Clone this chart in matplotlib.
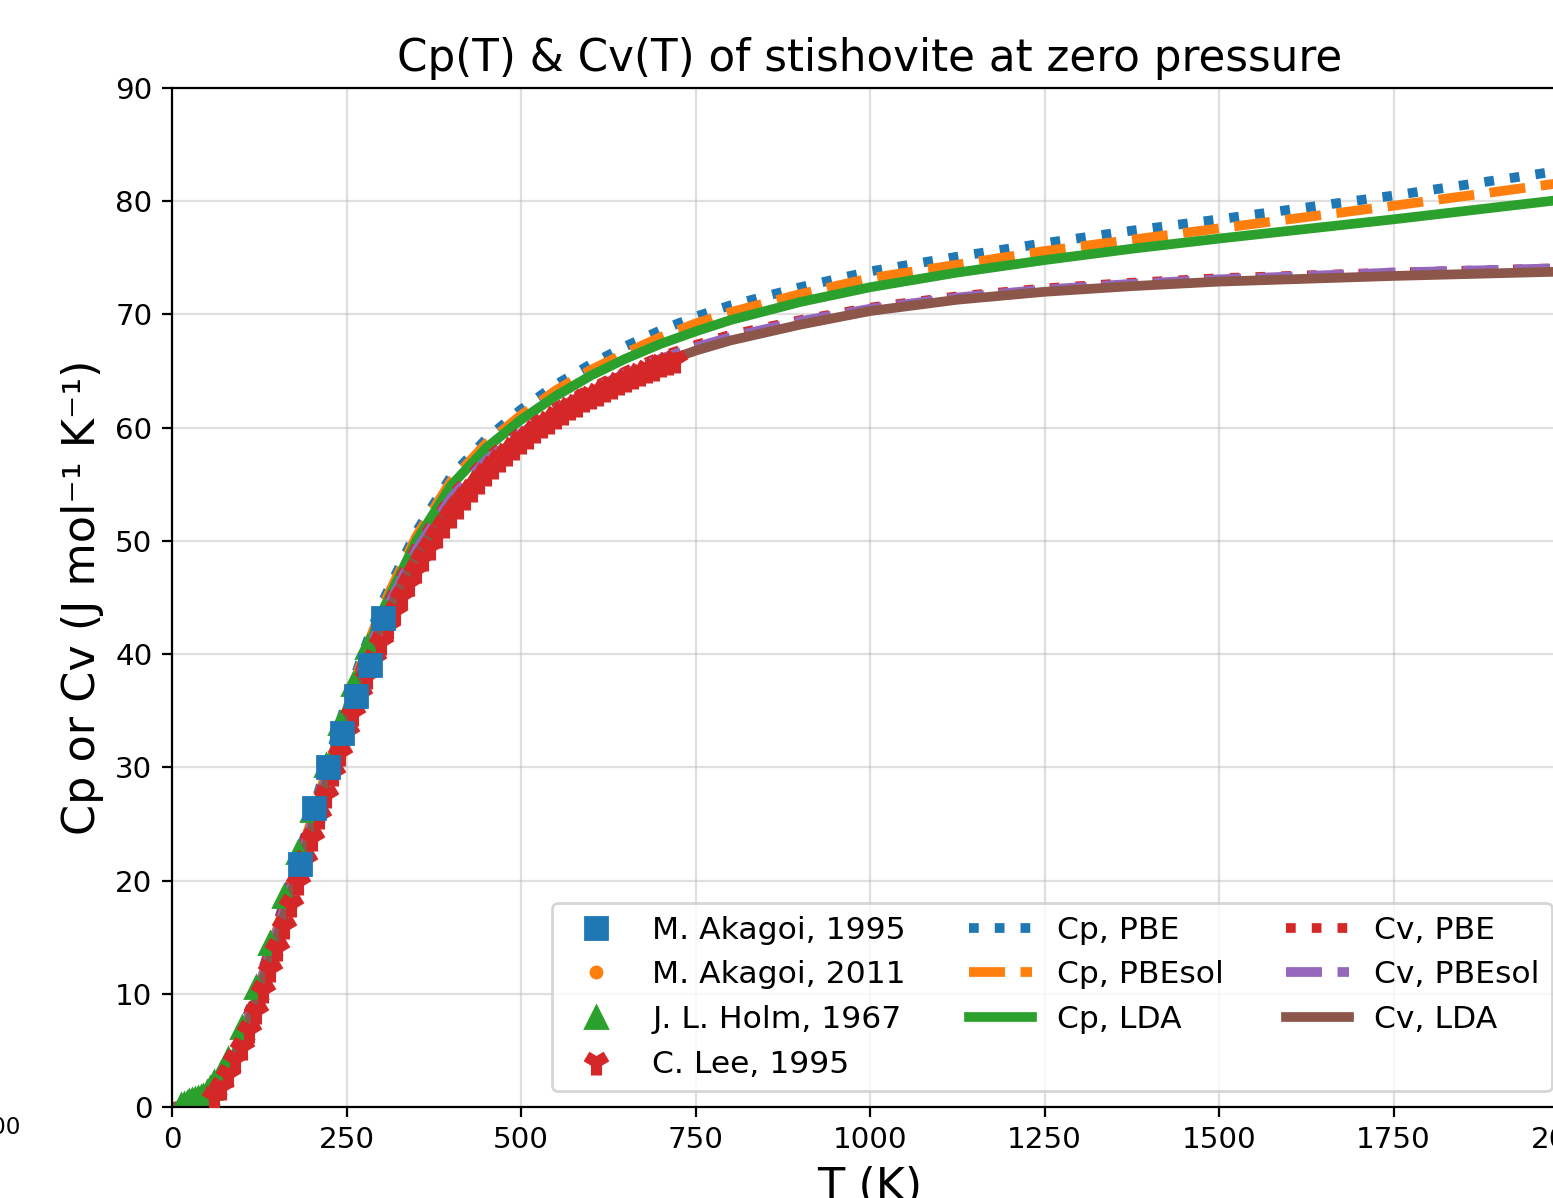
import matplotlib.pyplot as plt

# temperature grid for the calculated curves (K)
T_grid = [0, 25, 50, 75, 100, 125, 150, 175, 200, 225, 250, 275, 300, 350, 400,
          450, 500, 550, 600, 650, 700, 750, 800, 900, 1000, 1125, 1250, 1375,
          1500, 1750, 2000]

cp_pbe = [0, 0.15, 0.9, 3.0, 6.6, 11.1, 16.0, 20.9, 25.8, 30.8, 35.8, 40.3, 44.4, 50.8,
          55.7, 59.0, 61.6, 63.8, 65.6, 67.2, 68.6, 69.8, 70.8, 72.4, 73.8, 75.1, 76.3,
          77.4, 78.4, 80.5, 82.8]
cp_pbesol = [0, 0.12, 0.8, 2.8, 6.3, 10.7, 15.6, 20.5, 25.4, 30.4, 35.4, 39.9, 44.0, 50.4,
             55.3, 58.6, 61.1, 63.3, 65.1, 66.6, 68.0, 69.2, 70.2, 71.8, 73.2, 74.4, 75.6,
             76.6, 77.6, 79.6, 81.7]
cp_lda = [0, 0.1, 0.7, 2.6, 6.0, 10.3, 15.2, 20.1, 25.0, 30.0, 35.0, 39.5, 43.6, 50.0,
          54.9, 58.2, 60.7, 62.8, 64.6, 66.1, 67.4, 68.5, 69.5, 71.1, 72.4, 73.7, 74.8,
          75.8, 76.7, 78.4, 80.2]
cv_pbe = [0, 0.15, 0.9, 3.0, 6.5, 11.0, 15.8, 20.6, 25.4, 30.3, 35.1, 39.5, 43.4, 49.5,
          54.0, 57.3, 59.7, 61.8, 63.5, 65.0, 66.3, 67.3, 68.2, 69.5, 70.6, 71.6, 72.3,
          72.8, 73.2, 73.7, 74.1]
cv_pbesol = [0, 0.12, 0.8, 2.8, 6.2, 10.6, 15.4, 20.2, 25.0, 29.9, 34.7, 39.1, 43.1, 49.2,
             53.8, 57.1, 59.5, 61.6, 63.3, 64.8, 66.1, 67.1, 68.0, 69.4, 70.5, 71.5, 72.2,
             72.7, 73.1, 73.7, 74.1]
cv_lda = [0, 0.1, 0.7, 2.5, 5.8, 10.1, 14.9, 19.7, 24.5, 29.4, 34.2, 38.6, 42.6, 48.7,
          53.3, 56.6, 59.1, 61.2, 62.9, 64.4, 65.7, 66.8, 67.7, 69.1, 70.3, 71.3, 72.0,
          72.5, 72.9, 73.4, 73.8]

# experimental data
akagi1995_T = [183, 203, 223, 243, 263, 283, 303]
akagi1995_cp = [21.5, 26.4, 30.0, 33.0, 36.3, 39.0, 43.2]

akagi2011_T = [150, 175, 200, 225, 250, 275, 300, 325, 350]
akagi2011_cp = [15.0, 19.9, 24.8, 29.8, 34.7, 39.2, 43.3, 47.0, 49.8]

holm_T = [13, 17, 21, 25, 29, 33, 37, 41, 45, 50, 55, 60, 70, 80, 100, 120, 140,
          160, 180, 200, 220, 240, 260, 280]
holm_cp = [0.15, 0.25, 0.35, 0.5, 0.6, 0.7, 0.8, 0.9, 1.0, 1.3, 1.7, 2.2, 3.0, 4.2,
           7.1, 10.6, 14.5, 18.6, 22.5, 26.2, 30.2, 33.9, 37.4, 40.6]

lee_T = [60, 70, 80, 90, 100, 110, 120, 130, 140, 150, 160, 170, 180, 190, 200,
         210, 220, 230, 240, 250, 260, 270, 280, 290, 300, 310, 320, 330, 340, 350,
         360, 370, 380, 390, 400, 410, 420, 430, 440, 450, 460, 470, 480, 490, 500,
         510, 520, 530, 540, 550, 560, 570, 580, 590, 600, 610, 620, 630, 640, 650,
         660, 670, 680, 690, 700, 710, 720]
lee_cp = [1.0, 1.8, 2.9, 4.2, 5.3, 6.8, 8.5, 10.3, 12.2, 14.0, 16.0, 17.9, 19.9, 21.8, 23.8,
          25.7, 27.6, 29.5, 31.3, 33.1, 34.8, 36.5, 38.1, 39.6, 41.1, 42.5, 43.8, 45.1, 46.3, 47.4,
          48.5, 49.5, 50.5, 51.4, 52.3, 53.1, 53.9, 54.6, 55.3, 56.0, 56.6, 57.2, 57.8, 58.3, 58.8,
          59.3, 59.8, 60.2, 60.6, 61.0, 61.4, 61.8, 62.1, 62.5, 62.8, 63.1, 63.4, 63.7, 64.0, 64.3,
          64.6, 64.8, 65.1, 65.3, 65.6, 65.8, 66.0]

W, H, DPI = 1553, 1198, 200
fig = plt.figure(figsize=(W / DPI, H / DPI), dpi=DPI)
ax = fig.add_axes([172 / W, 1 - 1107 / H, 1396 / W, (1107 - 88) / H])

lw = 3.5
l1, = ax.plot(T_grid, cp_pbe, ':', color='tab:blue', lw=lw, label='Cp, PBE')
l2, = ax.plot(T_grid, cp_pbesol, '--', color='tab:orange', lw=lw, label='Cp, PBEsol')
l3, = ax.plot(T_grid, cp_lda, '-', color='tab:green', lw=lw, label='Cp, LDA')
l4, = ax.plot(T_grid, cv_pbe, ':', color='tab:red', lw=lw, label='Cv, PBE')
l5, = ax.plot(T_grid, cv_pbesol, '--', color='tab:purple', lw=lw, label='Cv, PBEsol')
l6, = ax.plot(T_grid, cv_lda, '-', color='tab:brown', lw=lw, label='Cv, LDA')

m4, = ax.plot(lee_T, lee_cp, '1', color='tab:red', ms=9, mew=4, ls='none',
              label='C. Lee, 1995', zorder=3)
m3, = ax.plot(holm_T, holm_cp, '^', color='tab:green', ms=8, ls='none',
              label='J. L. Holm, 1967', zorder=2.5)
m2, = ax.plot(akagi2011_T, akagi2011_cp, 'o', color='tab:orange', ms=4, ls='none',
              label='M. Akagoi, 2011', zorder=1.5)
m1, = ax.plot(akagi1995_T, akagi1995_cp, 's', color='tab:blue', ms=8, ls='none',
              label='M. Akagoi, 1995', zorder=3)

ax.set_xlim(0, 2000)
ax.set_ylim(0, 90)
ax.grid(True, alpha=0.4)
ax.tick_params(labelsize=10.6)
ax.set_xlabel('T (K)', fontsize=16)
ax.set_ylabel('Cp or Cv (J mol\u207b\u00b9 K\u207b\u00b9)', fontsize=16)
ax.set_title('Cp(T) & Cv(T) of stishovite at zero pressure', fontsize=15.7)

ax.legend(handles=[m1, m2, m3, m4, l1, l2, l3, l4, l5, l6], ncol=3,
          loc='lower right', fontsize=11.3)

# tick label of a neighbouring panel, cut at the left edge
fig.text(21 / W, 1 - 1128 / H, '2000', ha='right', va='center', fontsize=8.3)

fig.savefig('out.png', dpi=DPI)
